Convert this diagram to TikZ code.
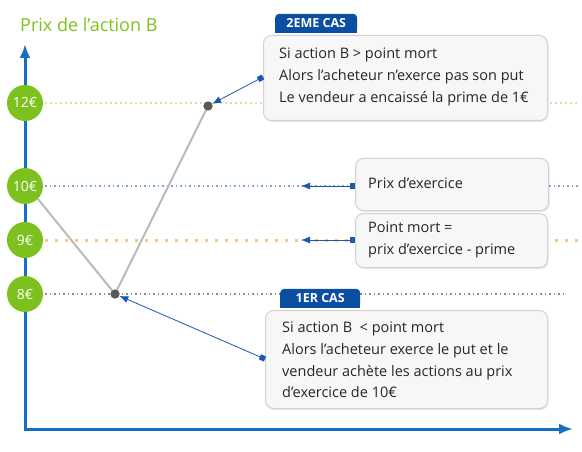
\documentclass[tikz,border=0pt]{standalone}
\usepackage{fontspec}
\setmainfont{Open Sans}
\usetikzlibrary{arrows.meta,shadows}
\definecolor{lgreen}{HTML}{7DC11F}
\definecolor{axblue}{HTML}{1570C4}
\definecolor{tabblue}{HTML}{0C4EA2}
\definecolor{arrblue}{HTML}{1B58B2}
\definecolor{dotblue}{HTML}{7DA7D8}
\definecolor{dotorange}{HTML}{F6C97C}
\definecolor{dotgray}{HTML}{8C8C8C}
\definecolor{dotgreen}{HTML}{CFE39A}
\definecolor{boxline}{HTML}{D2D2D2}
\definecolor{boxfill}{HTML}{F7F7F7}
\tikzset{
  price/.style={circle,fill=lgreen,text=white,minimum size=36pt,inner sep=0pt,font=\fontsize{14}{16}\selectfont},
  infobox/.style={draw=boxline,line width=1pt,fill=boxfill,rounded corners=8pt,anchor=north west,align=left,inner sep=0pt,
    drop shadow={shadow xshift=1pt,shadow yshift=-1.5pt,opacity=0.2}},
  infotext/.style={anchor=west,align=left,text=black!85,font=\fontsize{14.5}{21.8}\selectfont,inner sep=0pt},
  tabnode/.style={fill=tabblue,text=white,rounded corners=4pt,font=\bfseries\fontsize{12.5}{13}\selectfont,anchor=south west,inner sep=0pt},
  tabtext/.style={white,font=\bfseries\fontsize{12.5}{13}\selectfont,inner sep=0pt},
  pt/.style={circle,fill=black!65,minimum size=9pt,inner sep=0pt},
  conn/.style={arrblue,line width=0.8pt,{Square[length=5.5pt,width=5.5pt]}-{Latex[length=9pt,width=7pt]}},
  grayline/.style={black!27,line width=2pt},
}
\begin{document}
\begin{tikzpicture}[x=1pt,y=-1pt]
\useasboundingbox (0,0) rectangle (582,452);
% title
\node[anchor=west,text=lgreen,font=\fontsize{18}{20}\selectfont,inner sep=0pt] (title) at (20,25) {Prix de l’action B};
% guides
\draw[dotgreen,line width=2pt,dash pattern=on 1.5pt off 3.5pt] (45,103) -- (578,103);
\draw[dotblue,line width=1.6pt,dash pattern=on 1.5pt off 3pt] (45,186) -- (578,186);
\draw[dotorange,line width=3pt,dash pattern=on 3pt off 7pt] (45,240) -- (578,240);
\draw[dotgray,line width=1.6pt,dash pattern=on 1.5pt off 3pt] (45,294) -- (565,294);
% axes
\coordinate (ytip) at (25,44);
\coordinate (orig) at (25,429);
\coordinate (xtip) at (573,429);
\draw[axblue,line width=3pt,{Latex[length=14pt,width=11pt]}-{Latex[length=14pt,width=11pt]}] (ytip) -- (orig) -- (xtip);
% price circles
\node[price] (p12) at (25,103) {12€};
\node[price] (p10) at (25,186) {10€};
\node[price] (p9) at (25,240) {9€};
\node[price] (p8) at (25,294) {8€};
% payoff lines
\node[pt] (low) at (115,294) {};
\node[pt] (high) at (208,106) {};
\draw[grayline] (p10.south east) -- (low.center) -- (high.center);
\node[pt] at (115,294) {};
\node[pt] at (208,106) {};
% box 2EME CAS
\node[infobox,minimum width=284pt,minimum height=85pt] (b2) at (263,35) {};
\node[infotext] (t2) at (279,77) {Si action B > point mort\\Alors l’acheteur n’exerce pas son put\\Le vendeur a encaissé la prime de 1€};
\node[tabnode,minimum width=82pt,minimum height=19pt] (tab2) at (275,33) {};
\fill[tabblue] (tab2.west) rectangle (tab2.south east);
\node[tabtext] at (tab2.center) {2EME CAS};
\coordinate (c2) at (263,77);
\draw[conn] (c2) -- (high);
% box Prix d'exercice
\node[infobox,minimum width=193pt,minimum height=52pt] (bpe) at (355,158) {};
\node[infotext] (tpe) at (368,183) {Prix d’exercice};
\coordinate (cpe) at (355,186);
\coordinate (epe) at (301,186);
\draw[conn] (cpe) -- (epe);
% box Point mort
\node[infobox,minimum width=192pt,minimum height=54pt] (bpm) at (355,213) {};
\node[infotext] (tpm) at (368,240) {Point mort =\\prix d’exercice - prime};
\coordinate (cpm) at (355,240);
\coordinate (epm) at (301,240);
\draw[conn] (cpm) -- (epm);
% box 1ER CAS
\node[infobox,minimum width=282pt,minimum height=98pt] (b1) at (265,310) {};
\node[infotext] (t1) at (282,360) {Si action B \ < point mort\\Alors l’acheteur exerce le put et le\\vendeur achète les actions au prix\\d’exercice de 10€};
\node[tabnode,minimum width=80pt,minimum height=19pt] (tab1) at (280,308) {};
\fill[tabblue] (tab1.west) rectangle (tab1.south east);
\node[tabtext] at (tab1.center) {1ER CAS};
\coordinate (c1) at (265,359);
\draw[conn] (c1) -- (low);
\end{tikzpicture}
\end{document}
